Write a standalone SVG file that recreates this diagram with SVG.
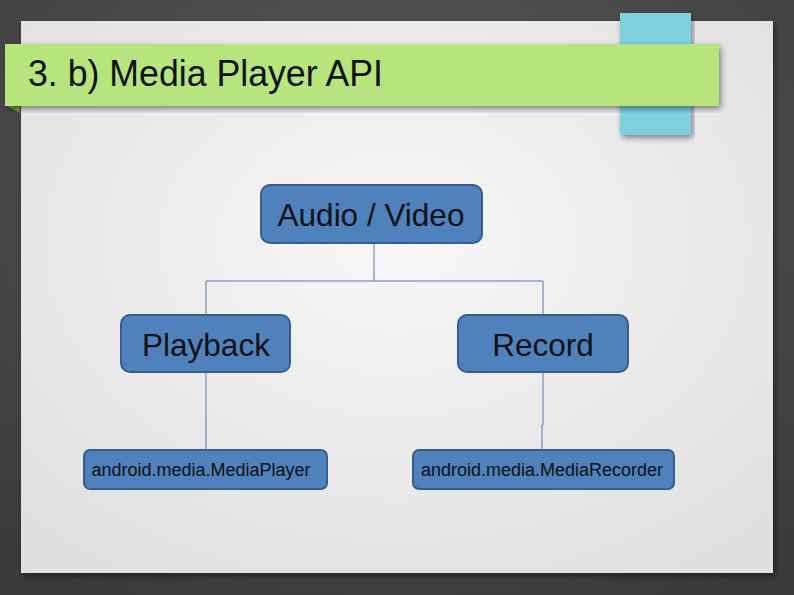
<svg xmlns="http://www.w3.org/2000/svg" width="794" height="595" viewBox="0 0 794 595">
<defs>
<radialGradient id="bg" cx="0.5" cy="0.3" r="0.8">
<stop offset="0" stop-color="#5a5a5a"/>
<stop offset="1" stop-color="#3a3a3a"/>
</radialGradient>
<radialGradient id="page" cx="0.5" cy="0.4" r="0.7">
<stop offset="0" stop-color="#f7f7f7"/>
<stop offset="1" stop-color="#e0e0e0"/>
</radialGradient>
<filter id="sh" x="-5%" y="-5%" width="110%" height="115%">
<feDropShadow dx="2" dy="3" stdDeviation="3" flood-color="#000" flood-opacity="0.45"/>
</filter>
</defs>
<style>
.node rect{fill:#4f81bd;stroke:#385d8a;stroke-width:2}
.big{font-family:"Liberation Sans",Arial,sans-serif;font-size:31.5px;fill:#111;text-anchor:middle}
.small{font-family:"Liberation Sans",Arial,sans-serif;font-size:18px;fill:#111;text-anchor:middle}
#connectors path{fill:none;stroke:#5b7ba6;stroke-width:1}
</style>
<rect width="794" height="595" fill="url(#bg)"/>
<rect x="21" y="21" width="752" height="552" fill="url(#page)" filter="url(#sh)"/>
<rect x="620" y="13" width="71" height="122" fill="#80cfdf" filter="url(#sh)"/>
<polygon points="5,105 20,105 20,113" fill="#6e9e3a"/>
<rect x="5" y="44" width="714" height="62" fill="#b6e47d" filter="url(#sh)"/>
<text x="28" y="86" font-family="'Liberation Sans',Arial,sans-serif" font-size="36" fill="#111" textLength="355" lengthAdjust="spacingAndGlyphs">3. b) Media Player API</text>
<g id="connectors">
<path d="M374 243V281"/>
<path d="M206 315V281H543V315"/>
<path d="M206 372V450"/>
<path d="M543 372V425H542V450"/>
</g>
<g id="audio-video" class="node"><rect x="261" y="185" width="221" height="58" rx="9"/><text class="big" x="371" y="226">Audio / Video</text></g>
<g id="playback" class="node"><rect x="121" y="315" width="169" height="57" rx="9"/><text class="big" x="206" y="356">Playback</text></g>
<g id="record" class="node"><rect x="458" y="315" width="170" height="57" rx="9"/><text class="big" x="543" y="356">Record</text></g>
<g id="mediaplayer" class="node"><rect x="84" y="450" width="243" height="39" rx="6"/><text class="small" x="201" y="476">android.media.MediaPlayer</text></g>
<g id="mediarecorder" class="node"><rect x="413" y="450" width="261" height="39" rx="6"/><text class="small" x="542" y="476">android.media.MediaRecorder</text></g>
</svg>
